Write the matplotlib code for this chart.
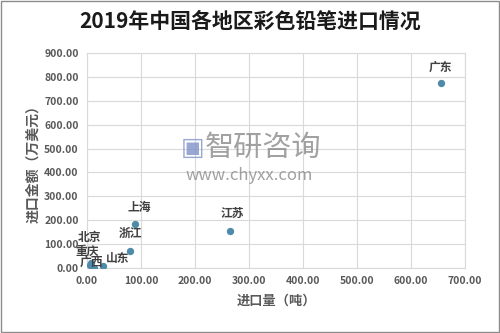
import matplotlib
matplotlib.use("Agg")
import matplotlib.pyplot as plt
from matplotlib.ticker import FormatStrFormatter, MultipleLocator
from matplotlib.patches import Rectangle

plt.rcParams['font.family'] = ['Noto Sans CJK SC', 'DejaVu Sans']

regions = ['广东', '江苏', '上海', '浙江', '北京', '重庆', '广西', '山东']
volume = [655, 265, 89, 80, 8, 6, 13, 30]        # 进口量（吨）
amount = [775, 156, 184, 71, 20, 12, 2, 8]       # 进口金额（万美元）
label_offsets = [(0, 16), (2, 17), (4, 17), (0, 18), (-2, 26), (-3, 14), (-3, 5), (14, 8)]

title = '2019年中国各地区彩色铅笔进口情况'
xlabel = '进口量（吨）'
ylabel = '进口金额（万美元）'

fig = plt.figure(figsize=(5.0, 3.33), dpi=100)
fig.patches.append(Rectangle((0.002, 0.003), 0.995, 0.993, transform=fig.transFigure,
                             fill=False, edgecolor='#8c8c8c', linewidth=1.0))
ax = fig.add_axes([0.174, 0.195, 0.756, 0.646])

ax.scatter(volume, amount, s=28, color='#4e8ba8', zorder=3, linewidths=0)
for name, x, y, off in zip(regions, volume, amount, label_offsets):
    ax.annotate(name, (x, y), xytext=off, textcoords='offset pixels',
                ha='center', va='center', fontsize=8.5, fontweight='bold', color='#404040', zorder=4)

ax.set_xlim(0, 700)
ax.set_ylim(0, 900)
ax.xaxis.set_major_locator(MultipleLocator(100))
ax.yaxis.set_major_locator(MultipleLocator(100))
ax.xaxis.set_major_formatter(FormatStrFormatter('%.2f'))
ax.yaxis.set_major_formatter(FormatStrFormatter('%.2f'))
ax.grid(True, color='#d9d9d9', linewidth=0.8)
ax.set_axisbelow(True)
for s in ax.spines.values():
    s.set_color('#d9d9d9')
    s.set_linewidth(0.8)
ax.tick_params(length=0, labelsize=7.5, colors='#595959', pad=6)
for lab in ax.get_xticklabels() + ax.get_yticklabels():
    lab.set_fontweight('bold')

ax.set_xlabel(xlabel, fontsize=9.5, fontweight='bold', color='#595959', labelpad=5)
ax.set_ylabel(ylabel, fontsize=10, fontweight='bold', color='#595959', labelpad=3)

fig.text(0.5, 0.935, title, ha='center', va='center', fontsize=15, fontweight='bold', color='#1a1a1a')

# watermark
fig.text(0.527, 0.555, '智研咨询', ha='center', va='center', fontsize=21, color='#8a8a8a', alpha=0.8)
fig.text(0.498, 0.472, 'www.chyxx.com', ha='center', va='center', fontsize=12, color='#8a8a8a', alpha=0.8)
fig.text(0.385, 0.555, '▣', ha='center', va='center', fontsize=18, color='#7f93c9', alpha=0.8,
         family=['DejaVu Sans'])

fig.savefig('out.png', dpi=100)
